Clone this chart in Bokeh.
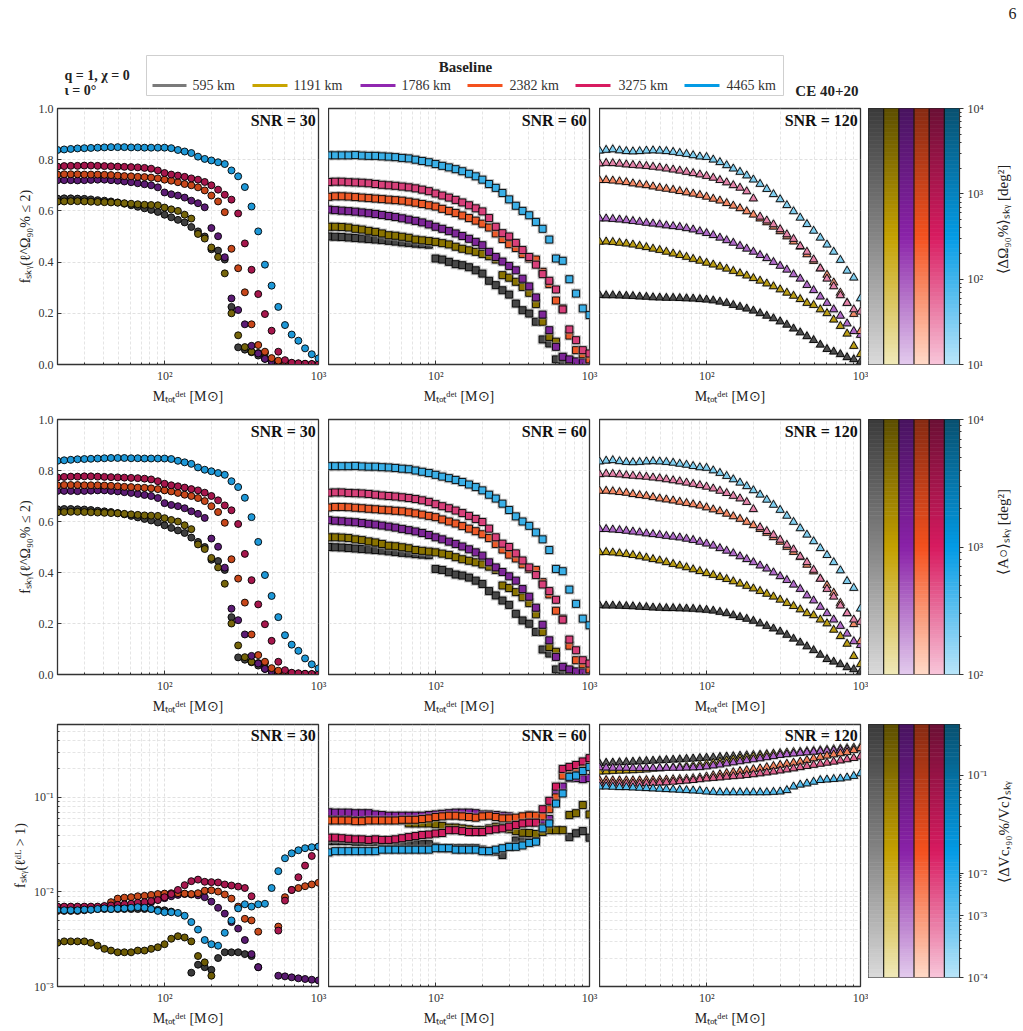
import numpy as np
from bokeh.plotting import figure
from bokeh.layouts import row, column
from bokeh.models import Range1d, FixedTicker, CustomJSTickFormatter, PrintfTickFormatter, Label
from bokeh.core.properties import value
from bokeh.embed import file_html
from bokeh.resources import INLINE

nan = float("nan")

# ---------------- data ----------------
mass = [20.0, 22.1, 24.4, 27.0, 29.9, 33.0, 36.5, 40.4, 44.6, 49.3, 54.5, 60.3, 66.6, 73.7, 81.4,
        90.0, 99.5, 110.0, 121.6, 134.5, 148.6, 164.3, 181.7, 200.8, 222.0, 245.4, 271.3, 299.9,
        331.6, 366.5, 405.2, 448.0, 495.2, 547.5, 605.2, 669.1, 739.7, 817.7, 904.0, 1000.0]

baselines = ["595 km", "1191 km", "1786 km", "2382 km", "3275 km", "4465 km"]
line_colors = ["#7a7a7a", "#c8a400", "#9027b0", "#f4511e", "#d81b60", "#039be5"]
snr_values = [30, 60, 120]

# f_sky(l_90 <= 2), SNR = 30
loc30_595 = [0.648,0.649,0.649,0.648,0.647,0.645,0.642,0.64,0.637,0.633, 0.628,0.622,0.616,0.61,0.604,0.596,0.585,0.575,0.565,0.555, 0.537,0.52,0.50,0.45,0.445,0.41,0.225,0.067,0.058,0.048, 0.035,0.022,0.012,0.006,0.003,0.002,0.001,0.001,0.0,0.0]
loc30_1191 = [0.636,0.637,0.638,0.638,0.637,0.636,0.635,0.634,0.633,0.632, 0.63,0.628,0.626,0.624,0.623,0.622,0.613,0.606,0.60,0.585, 0.57,0.51,0.492,0.457,0.42,0.356,0.2,0.114,0.068,0.05, 0.045,0.045,0.02,0.01,0.005,0.003,0.002,0.001,0.0,0.0]
loc30_1786 = [0.72,0.72,0.72,0.719,0.72,0.721,0.722,0.722,0.72,0.718, 0.715,0.712,0.708,0.704,0.70,0.692,0.672,0.665,0.66,0.652, 0.64,0.63,0.614,0.533,0.501,0.419,0.258,0.213,0.157,0.073, 0.043,0.022,0.012,0.006,0.003,0.002,0.001,0.001,0.0,0.0]
loc30_2382 = [0.742,0.743,0.743,0.743,0.742,0.742,0.742,0.741,0.74,0.738, 0.736,0.735,0.733,0.732,0.73,0.727,0.722,0.718,0.712,0.705, 0.70,0.692,0.68,0.66,0.637,0.595,0.452,0.376,0.282,0.157, 0.076,0.05,0.025,0.015,0.008,0.005,0.003,0.002,0.001,0.0]
loc30_3275 = [0.773,0.775,0.776,0.776,0.777,0.777,0.776,0.775,0.774,0.773, 0.772,0.771,0.77,0.768,0.765,0.758,0.748,0.742,0.738,0.733, 0.727,0.722,0.713,0.70,0.683,0.663,0.644,0.59,0.473,0.37, 0.275,0.197,0.132,0.05,0.017,0.007,0.005,0.003,0.002,0.001]
loc30_4465 = [0.838,0.840,0.842,0.844,0.845,0.846,0.847,0.848,0.849,0.849, 0.849,0.848,0.848,0.847,0.847,0.847,0.847,0.845,0.838,0.832, 0.826,0.812,0.803,0.797,0.79,0.783,0.758,0.735,0.693,0.617, 0.52,0.39,0.308,0.225,0.154,0.117,0.093,0.063,0.04,0.024]

# SNR = 60
loc60_595 = [0.50,0.499,0.498,0.496,0.494,0.492,0.49,0.488,0.486,0.483, 0.48,0.477,0.475,0.472,0.47,0.468,0.414,0.41,0.401,0.392, 0.388,0.38,0.368,0.355,0.327,0.31,0.29,0.273,0.238,0.212, 0.199,0.167,0.098,0.082,0.02,0.01,0.008,0.005,0.003,0.002]
loc60_1191 = [0.538,0.538,0.537,0.535,0.53,0.527,0.522,0.518,0.512,0.505, 0.503,0.499,0.495,0.488,0.485,0.482,0.479,0.474,0.469,0.46, 0.452,0.446,0.44,0.432,0.423,0.41,0.349,0.339,0.323,0.303, 0.28,0.236,0.167,0.108,0.089,0.027,0.015,0.01,0.006,0.004]
loc60_1786 = [0.605,0.603,0.601,0.599,0.597,0.594,0.591,0.588,0.584,0.58, 0.576,0.571,0.566,0.561,0.555,0.547,0.538,0.53,0.521,0.512, 0.502,0.491,0.479,0.466,0.44,0.42,0.402,0.385,0.368,0.335, 0.305,0.262,0.195,0.134,0.069,0.03,0.02,0.012,0.008,0.005]
loc60_2382 = [0.655,0.657,0.657,0.656,0.654,0.652,0.65,0.648,0.646,0.644, 0.642,0.64,0.636,0.632,0.627,0.622,0.617,0.608,0.6,0.592, 0.582,0.572,0.562,0.55,0.535,0.512,0.49,0.47,0.455,0.432, 0.414,0.41,0.362,0.314,0.25,0.219,0.113,0.056,0.04,0.02]
loc60_3275 = [0.713,0.714,0.714,0.712,0.711,0.71,0.708,0.705,0.702,0.70, 0.698,0.695,0.692,0.688,0.683,0.677,0.668,0.66,0.652,0.643, 0.633,0.622,0.61,0.598,0.572,0.538,0.513,0.5,0.475,0.447, 0.42,0.39,0.353,0.327,0.293,0.215,0.137,0.095,0.056,0.043]
loc60_4465 = [0.817,0.817,0.817,0.817,0.818,0.816,0.815,0.815,0.813,0.812, 0.81,0.807,0.805,0.80,0.795,0.79,0.783,0.776,0.77,0.763, 0.755,0.745,0.735,0.722,0.705,0.69,0.67,0.645,0.62,0.6, 0.583,0.557,0.53,0.488,0.414,0.405,0.333,0.277,0.219,0.193]

# SNR = 120
loc120_595 = [0.271,0.27,0.27,0.269,0.268,0.267,0.265,0.264,0.262,0.261, 0.26,0.26,0.259,0.258,0.257,0.255,0.253,0.25,0.245,0.24, 0.232,0.225,0.218,0.21,0.2,0.19,0.18,0.168,0.155,0.14, 0.125,0.11,0.095,0.077,0.06,0.05,0.04,0.028,0.02,0.01]
loc120_1191 = [0.479,0.48,0.478,0.475,0.472,0.468,0.463,0.458,0.452,0.447, 0.44,0.433,0.427,0.42,0.412,0.405,0.397,0.39,0.382,0.374, 0.365,0.356,0.347,0.337,0.327,0.316,0.305,0.293,0.28,0.268, 0.255,0.24,0.232,0.215,0.2,0.175,0.15,0.12,0.072,0.04]
loc120_1786 = [0.57,0.57,0.568,0.566,0.563,0.56,0.557,0.553,0.55,0.547, 0.543,0.54,0.537,0.532,0.527,0.52,0.513,0.505,0.495,0.485, 0.475,0.463,0.452,0.44,0.427,0.415,0.40,0.385,0.37,0.352, 0.335,0.31,0.29,0.265,0.24,0.215,0.19,0.16,0.13,0.115]
loc120_2382 = [0.72,0.72,0.718,0.715,0.712,0.707,0.703,0.70,0.695,0.69, 0.686,0.682,0.677,0.672,0.667,0.662,0.655,0.647,0.64,0.63, 0.62,0.61,0.598,0.585,0.57,0.555,0.538,0.52,0.50,0.48, 0.46,0.43,0.404,0.375,0.35,0.32,0.28,0.24,0.197,0.13]
loc120_3275 = [0.785,0.787,0.786,0.784,0.781,0.779,0.777,0.775,0.772,0.769, 0.765,0.761,0.757,0.752,0.747,0.742,0.736,0.729,0.72,0.711, 0.70,0.69,0.676,0.648,0.577,0.562,0.547,0.528,0.508,0.49, 0.462,0.44,0.41,0.375,0.335,0.305,0.27,0.24,0.215,0.206]
loc120_4465 = [0.835,0.838,0.84,0.836,0.833,0.832,0.833,0.835,0.836,0.835, 0.833,0.83,0.826,0.822,0.817,0.812,0.81,0.80,0.79,0.778, 0.765,0.752,0.738,0.722,0.705,0.685,0.665,0.645,0.622,0.598, 0.573,0.548,0.522,0.495,0.468,0.44,0.408,0.366,0.339,0.258]

# f_sky(l_dL > 1), SNR = 30
vol30_595 = [0.0066,0.0066,0.0066,0.0066,0.0066,0.0066,0.0066,0.0066,0.0066,0.0066, 0.0066,0.0066,0.0066,0.0066,0.0066,0.0065,0.0064,0.0062,nan,nan, 0.0014,0.0017,0.0016,0.0015,0.002,0.0023,0.0023,0.0023,0.0022,0.0021, 0.0016,nan,nan,nan,nan,nan,nan,nan,nan,nan]
vol30_1191 = [0.0029,0.003,0.003,0.003,0.003,0.0029,0.0027,0.0025,0.0024,0.0023, 0.0023,0.0023,0.0024,0.0024,0.0025,0.0026,0.0028,0.0032,0.0034,0.0033, 0.003,0.0021,0.0018,0.0013,nan,nan,nan,nan,nan,nan, nan,nan,nan,nan,nan,nan,nan,nan,nan,nan]
vol30_1786 = [0.0068,0.0068,0.0068,0.0068,0.0068,0.0068,0.0068,0.0069,0.007,0.0069, 0.0069,0.007,0.0072,0.0074,0.0078,0.0083,0.0086,0.009,0.0093,0.0095, 0.0094,0.0092,0.0088,0.0079,0.0068,0.0059,0.0048,0.0041,0.0031,0.0022, 0.0016,nan,nan,0.0013,0.00128,0.00125,0.00122,0.0012,0.00118,0.00116]
vol30_2382 = [0.0063,0.0063,0.0063,0.0063,0.0064,0.0065,0.0067,0.007,0.0078,0.0085, 0.0087,0.0088,0.009,0.0091,0.0093,0.0095,0.0096,0.0097,0.0097,0.0096, 0.0095,0.0097,0.0103,0.0104,0.0101,0.0094,0.0085,0.007,0.0052,0.005, 0.0038,nan,nan,0.0043,0.0088,0.0105,0.011,0.0115,0.012,0.0125]
vol30_3275 = [0.007,0.007,0.007,0.007,0.007,0.007,0.007,0.0071,0.0072,0.0073, 0.0074,0.0075,0.0077,0.0078,0.008,0.0082,0.0088,0.0095,0.0105,0.0118, 0.013,0.0135,0.0128,0.0127,0.0126,0.012,0.0117,0.0114,0.011,0.009, nan,nan,nan,0.0039,0.0081,0.0105,0.0143,0.019,0.024,0.03]
vol30_4465 = [0.0064,0.0064,0.0064,0.0064,0.0065,0.0065,0.0066,0.0067,0.0066,0.0067, 0.0067,0.0068,0.0069,0.0068,0.0066,0.0063,0.0061,0.0061,0.006,0.0056, 0.0048,0.004,0.0031,0.0028,0.0027,0.0037,0.005,0.0067,0.0074,0.007, 0.0074,0.0075,0.011,0.0166,0.0227,0.0256,0.0276,0.029,0.0297,0.0302]

# SNR = 60
vol60_595 = [0.0345,0.0345,0.0345,0.0345,0.034,0.034,0.034,0.034,0.034,0.033, 0.033,0.033,0.033,0.032,0.032,0.032,0.030,0.029,0.029,0.029, 0.029,0.029,0.029,0.028,0.027,0.0267,0.0246,0.03,0.035,0.036, 0.037,0.037,nan,nan,nan,nan,0.038,0.0417,0.044,0.0375]
vol60_1191 = [0.058,0.058,0.058,0.058,0.058,0.058,0.058,0.058,0.058,0.058, 0.058,0.057,0.053,0.053,0.053,0.053,0.052,0.05,0.048,0.048, 0.047,0.046,0.045,0.045,0.047,0.049,0.048,0.046,0.044,0.0423, 0.042,0.041,0.043,0.045,0.045,0.045,0.065,0.068,0.083,0.066]
vol60_1786 = [0.0695,0.069,0.069,0.069,0.068,0.068,0.068,0.066,0.065,0.064, 0.064,0.064,0.064,0.064,0.064,0.065,0.066,0.067,0.068,0.069, 0.069,0.069,0.068,0.066,0.066,0.065,0.064,0.063,0.056,0.062, 0.065,0.063,0.058,0.059,0.11,0.13,0.16,0.16,0.156,0.16]
vol60_2382 = [0.057,0.057,0.057,0.057,0.056,0.056,0.057,0.057,0.057,0.057, 0.057,0.058,0.058,0.058,0.059,0.06,0.062,0.063,0.064,0.064, 0.063,0.062,0.061,0.063,0.064,0.062,0.06,0.06,0.061,0.063, 0.064,0.064,0.063,0.075,0.10,0.17,0.2,0.205,0.22,0.22]
vol60_3275 = [0.0375,0.0375,0.037,0.0365,0.036,0.036,0.0355,0.036,0.0355,0.0355, 0.036,0.037,0.038,0.039,0.04,0.0405,0.0415,0.042,0.045,0.045, 0.044,0.043,0.043,0.043,0.045,0.046,0.047,0.049,0.051,0.053, 0.054,0.054,0.075,0.092,0.13,0.2,0.21,0.22,0.24,0.26]
vol60_4465 = [0.0262,0.027,0.027,0.027,0.027,0.027,0.027,0.027,0.028,0.028, 0.028,0.028,0.028,0.028,0.028,0.028,0.029,0.029,0.029,0.028, 0.028,0.028,0.028,0.027,0.027,0.028,0.029,0.03,0.03,0.031, 0.033,0.034,0.047,0.053,0.086,0.11,0.165,0.17,0.19,0.21]

# SNR = 120
vol120_595 = [0.229,0.232,0.233,0.235,0.236,0.238,0.24,0.242,0.244,0.246, 0.248,0.25,0.252,0.255,0.257,0.26,0.262,0.264,0.267,0.27, 0.272,0.275,0.278,0.28,0.283,0.286,0.288,0.291,0.294,0.297, 0.3,0.302,0.305,0.308,0.311,0.314,0.317,0.32,0.325,0.33]
vol120_1191 = [0.187,0.188,0.19,0.191,0.192,0.193,0.195,0.197,0.2,0.202, 0.205,0.208,0.211,0.214,0.217,0.221,0.226,0.232,0.238,0.245, 0.252,0.258,0.264,0.27,0.275,0.281,0.287,0.292,0.297,0.3, 0.303,0.307,0.31,0.314,0.318,0.322,0.326,0.33,0.335,0.34]
vol120_1786 = [0.207,0.206,0.205,0.205,0.205,0.204,0.204,0.204,0.204,0.204, 0.205,0.205,0.205,0.206,0.207,0.208,0.212,0.217,0.222,0.228, 0.234,0.24,0.246,0.252,0.258,0.265,0.272,0.28,0.285,0.29, 0.295,0.299,0.303,0.307,0.31,0.313,0.316,0.32,0.325,0.33]
vol120_2382 = [0.152,0.152,0.151,0.151,0.151,0.151,0.151,0.152,0.152,0.153, 0.154,0.155,0.156,0.157,0.159,0.162,0.166,0.171,0.175,0.18, 0.184,0.189,0.193,0.198,0.202,0.208,0.214,0.22,0.226,0.232, 0.238,0.248,0.258,0.267,0.276,0.284,0.292,0.3,0.315,0.33]
vol120_3275 = [0.14,0.14,0.14,0.14,0.14,0.14,0.14,0.141,0.142,0.143, 0.144,0.146,0.148,0.15,0.152,0.155,0.158,0.16,0.162,0.165, 0.167,0.169,0.172,0.175,0.179,0.183,0.187,0.192,0.197,0.202, 0.208,0.214,0.22,0.226,0.232,0.238,0.245,0.252,0.26,0.27]
vol120_4465 = [0.13,0.13,0.129,0.128,0.128,0.127,0.126,0.125,0.124,0.123, 0.122,0.121,0.12,0.119,0.118,0.117,0.115,0.114,0.113,0.113, 0.113,0.113,0.113,0.113,0.113,0.113,0.114,0.115,0.119,0.13, 0.136,0.14,0.146,0.152,0.154,0.156,0.158,0.162,0.168,0.179]

loc_data = {30: [loc30_595, loc30_1191, loc30_1786, loc30_2382, loc30_3275, loc30_4465],
            60: [loc60_595, loc60_1191, loc60_1786, loc60_2382, loc60_3275, loc60_4465],
            120: [loc120_595, loc120_1191, loc120_1786, loc120_2382, loc120_3275, loc120_4465]}
vol_data = {30: [vol30_595, vol30_1191, vol30_1786, vol30_2382, vol30_3275, vol30_4465],
            60: [vol60_595, vol60_1191, vol60_1786, vol60_2382, vol60_3275, vol60_4465],
            120: [vol120_595, vol120_1191, vol120_1786, vol120_2382, vol120_3275, vol120_4465]}

# ---------------- styles ----------------
fill_loc = {30: ["#3f3f3f", "#76650a", "#5c1b74", "#c8471a", "#a6164c", "#1d98d8"],
            60: ["#474747", "#8a7300", "#7e2698", "#ee5a28", "#d8407a", "#3ab0e8"],
            120: ["#4d4d4d", "#bb9d14", "#b06ac8", "#f58a66", "#e584aa", "#80cff1"]}
fill_vol = {30: ["#3a3a3a", "#6e5c04", "#5a1a70", "#c84a1c", "#a8174e", "#1f99d8"],
            60: ["#4a4a4a", "#7f6b00", "#8a25a6", "#f0561f", "#d21f62", "#28a6e6"],
            120: ["#555555", "#c0a010", "#b466cc", "#f5805a", "#e06590", "#55bdee"]}
markers = {30: "circle", 60: "square", 120: "triangle"}
msize = {30: 7, 60: 7, 120: 8}

ramps = [("#dadada", "#858585", "#3a3a3a"),
         ("#f0e9b9", "#c4a000", "#5c4e00"),
         ("#e3cbed", "#8a22a8", "#48135f"),
         ("#ffd9c8", "#f4511e", "#862a12"),
         ("#f8c6da", "#d81b60", "#6a0f34"),
         ("#b9e5f9", "#039be5", "#08506f")]

SERIF = "Liberation Serif"
GRID = "#d4d4d4"

POW_JS = """
const m = {'-':'\u207b','0':'\u2070','1':'\u00b9','2':'\u00b2','3':'\u00b3','4':'\u2074','5':'\u2075','6':'\u2076','7':'\u2077','8':'\u2078','9':'\u2079'};
const e = Math.round(Math.log10(tick));
return '10' + String(e).split('').map(c => m[c]).join('');
"""
CB_JS = """
let best = 0, d = 1e9;
for (let i = 0; i < pos.length; i++) { const dd = Math.abs(pos[i] - tick); if (dd < d) { d = dd; best = i; } }
return labs[best];
"""

XLABEL = "M\u209c\u2092\u209c\u1d48\u1d49\u1d57 [M\u2299]"
YLABEL_LOC = "f\u209b\u2096\u1d67(\u2113^\u03a9\u2089\u2080% \u2264 2)"
YLABEL_VOL = "f\u209b\u2096\u1d67(\u2113\u1d48\u1d38 > 1)"


def style_axis(ax):
    ax.major_label_text_font = SERIF
    ax.major_label_text_font_size = "12px"
    ax.major_label_text_color = "#333333"
    ax.axis_label_text_font = SERIF
    ax.axis_label_text_font_size = "14px"
    ax.axis_label_text_font_style = "normal"
    ax.axis_label_text_color = "#222222"
    ax.axis_line_color = "#333333"
    ax.major_tick_line_color = "#333333"
    ax.minor_tick_line_color = "#333333"
    ax.major_tick_in = 4
    ax.major_tick_out = 0
    ax.minor_tick_in = 2
    ax.minor_tick_out = 0
    ax.major_label_standoff = 4
    ax.axis_label_standoff = 3


def panel(col, series, fills, snr, kind, fh, bt, bb):
    ylog = kind == "vol"
    p = figure(frame_width=261, frame_height=fh, x_axis_type="log",
               y_axis_type="log" if ylog else "linear",
               x_range=Range1d(20, 1000),
               y_range=Range1d(1e-3, 0.59) if ylog else Range1d(0, 1),
               min_border_left=57 if col == 0 else 0,
               min_border_right=10 if col < 2 else 8,
               min_border_top=bt, min_border_bottom=bb,
               toolbar_location=None, output_backend="svg", title=None)
    p.outline_line_color = "#333333"
    p.outline_line_width = 1.3
    xt = FixedTicker(ticks=[100, 1000],
                     minor_ticks=[20, 30, 40, 50, 60, 70, 80, 90, 200, 300, 400, 500, 600, 700, 800, 900])
    p.xaxis.ticker = xt
    p.xgrid.ticker = xt
    p.xaxis.formatter = CustomJSTickFormatter(code=POW_JS)
    p.xaxis.axis_label = XLABEL
    if ylog:
        yt = FixedTicker(ticks=[1e-3, 1e-2, 1e-1],
                         minor_ticks=[2e-3, 3e-3, 4e-3, 5e-3, 6e-3, 7e-3, 8e-3, 9e-3,
                                      2e-2, 3e-2, 4e-2, 5e-2, 6e-2, 7e-2, 8e-2, 9e-2,
                                      2e-1, 3e-1, 4e-1, 5e-1])
        p.yaxis.ticker = yt
        p.ygrid.ticker = yt
        p.yaxis.formatter = CustomJSTickFormatter(code=POW_JS)
        p.ygrid.minor_grid_line_color = GRID
        p.ygrid.minor_grid_line_dash = "3 2"
        p.ygrid.minor_grid_line_width = 0.6
    else:
        yt = FixedTicker(ticks=[0, 0.2, 0.4, 0.6, 0.8, 1.0])
        p.yaxis.ticker = yt
        p.ygrid.ticker = yt
        p.yaxis.formatter = PrintfTickFormatter(format="%.1f")
    for g in (p.xgrid, p.ygrid):
        g.grid_line_color = GRID
        g.grid_line_dash = "3 2"
        g.grid_line_width = 0.7
    p.xgrid.minor_grid_line_color = GRID
    p.xgrid.minor_grid_line_dash = "3 2"
    p.xgrid.minor_grid_line_width = 0.6
    style_axis(p.xaxis[0])
    style_axis(p.yaxis[0])
    if col == 0:
        p.yaxis.axis_label = YLABEL_VOL if ylog else YLABEL_LOC
    else:
        p.yaxis.visible = False

    mk = markers[snr]
    sz = msize[snr]
    for k in range(6):
        if mk != "circle":
            p.scatter(mass, series[k], marker=mk, size=sz + 3, fill_color="#8f8f8f",
                      fill_alpha=0.55, line_color=None)
        p.scatter(mass, series[k], marker=mk, size=sz, fill_color=fills[k],
                  line_color="black", line_width=0.9)

    p.add_layout(Label(x=960, y=0.55 if ylog else 0.988, text="SNR = %d" % snr,
                       text_align="right", text_baseline="top", text_font=SERIF,
                       text_font_size="16px", text_font_style="bold", text_color="#111111"))
    return p


def hex2rgb(h):
    h = h.lstrip("#")
    return np.array([int(h[i:i + 2], 16) for i in (0, 2, 4)], dtype=float)


def ramp_color(lo, mid, hi, t):
    a, b, c = hex2rgb(lo), hex2rgb(mid), hex2rgb(hi)
    if t < 0.5:
        v = a + (b - a) * (t / 0.5)
    else:
        v = b + (c - b) * ((t - 0.5) / 0.5)
    v = np.clip(np.round(v), 0, 255).astype(int)
    return "#%02x%02x%02x" % tuple(v)


def cbar(fh, bt, bb, pos, labs, minor):
    p = figure(frame_width=91, frame_height=fh, x_range=Range1d(0, 6), y_range=Range1d(0, 1),
               y_axis_location="right", min_border_left=0, min_border_right=30,
               min_border_top=bt, min_border_bottom=bb,
               toolbar_location=None, output_backend="svg", title=None)
    p.xaxis.visible = False
    p.grid.visible = False
    p.outline_line_color = "#222222"
    p.outline_line_width = 1.2
    N = 64
    L, R, B, T, C = [], [], [], [], []
    for k, (lo, mid, hi) in enumerate(ramps):
        for j in range(N):
            L.append(k); R.append(k + 1)
            B.append(j / N); T.append((j + 1) / N)
            C.append(ramp_color(lo, mid, hi, (j + 0.5) / N))
    p.quad(left=L, right=R, bottom=B, top=T, fill_color=C, line_color=C, line_width=0.6)
    p.segment(x0=[1, 2, 3, 4, 5], y0=[0] * 5, x1=[1, 2, 3, 4, 5], y1=[1] * 5,
              line_color="#111111", line_width=1.1)
    p.yaxis.ticker = FixedTicker(ticks=pos, minor_ticks=minor)
    p.yaxis.formatter = CustomJSTickFormatter(args=dict(pos=pos, labs=labs), code=CB_JS)
    ax = p.yaxis[0]
    style_axis(ax)
    ax.major_tick_in = 0
    ax.major_tick_out = 4
    ax.minor_tick_in = 0
    ax.minor_tick_out = 2
    return p


def cblabel(total_h, bt, fh, label):
    q = figure(width=34, height=total_h, x_range=Range1d(0, 34), y_range=Range1d(0, total_h),
               min_border=0, toolbar_location=None, output_backend="svg", title=None)
    q.axis.visible = False
    q.grid.visible = False
    q.outline_line_color = None
    q.text(x=[13], y=[total_h - bt - fh / 2], text=[label], angle=np.pi / 2,
           text_align="center", text_baseline="middle", text_font=value(SERIF),
           text_font_size="15px", text_color="#222222")
    return q


# colour bar tick positions (fractions of bar height)
cb1_pos = [0.0, 1 / 3, 2 / 3, 1.0]
cb1_lab = ["10\u00b9", "10\u00b2", "10\u00b3", "10\u2074"]
cb1_min = [(d + np.log10(k)) / 3 for d in range(3) for k in range(2, 10)]
cb2_pos = [0.0, 0.5, 1.0]
cb2_lab = ["10\u00b2", "10\u00b3", "10\u2074"]
cb2_min = [(d + np.log10(k)) / 2 for d in range(2) for k in range(2, 10)]
cb3_pos = [0.0, 0.244, 0.41, 0.799]
cb3_lab = ["10\u207b\u2074", "10\u207b\u00b3", "10\u207b\u00b2", "10\u207b\u00b9"]
cb3_min = []
for a, b in zip(cb3_pos[:-1], cb3_pos[1:]):
    cb3_min += [a + (b - a) * np.log10(k) for k in range(2, 10)]
cb3_min += [0.799 + 0.39 * np.log10(k) for k in (2, 3)]

rows = []
# (kind, frame_h, top, bottom, cbar_frame_h, cbar_bottom)
row_specs = [("loc", 256, 7, 48, 256, 48), ("loc", 255, 7, 43, 255, 43), ("vol", 262, 7, 45, 253, 54)]
cb_specs = [(cb1_pos, cb1_lab, cb1_min, "\u27e8\u0394\u03a9\u2089\u2080%\u27e9\u209b\u2096\u1d67 [deg\u00b2]"),
            (cb2_pos, cb2_lab, cb2_min, "\u27e8A\u25cb\u27e9\u209b\u2096\u1d67 [deg\u00b2]"),
            (cb3_pos, cb3_lab, cb3_min, "\u27e8\u0394Vc,\u2089\u2080%/Vc\u27e9\u209b\u2096\u1d67")]
for r, (kind, fh, bt, bb, cfh, cbb) in enumerate(row_specs):
    figs = []
    for c, snr in enumerate(snr_values):
        data = vol_data[snr] if kind == "vol" else loc_data[snr]
        fills = fill_vol[snr] if kind == "vol" else fill_loc[snr]
        figs.append(panel(c, data, fills, snr, kind, fh, bt, bb))
    pos, labs, mn, lab = cb_specs[r]
    figs.append(cbar(cfh, bt, cbb, pos, labs, mn))
    figs.append(cblabel(bt + fh + bb, bt, cfh, lab))
    rows.append(row(*figs, spacing=0))

# ---------------- header (legend + annotations) ----------------
HH = 101
h = figure(width=1023, height=HH, x_range=Range1d(0, 1023), y_range=Range1d(HH, 0),
           min_border=0, toolbar_location=None, output_backend="svg", title=None)
h.axis.visible = False
h.grid.visible = False
h.outline_line_color = None
h.quad(left=[146], right=[783], top=[55], bottom=[95], fill_color="white",
       line_color="#cfcfcf", line_width=1)
hx0 = [152, 252, 360, 467, 575, 684]
hx1 = [186, 287, 395, 502, 610, 719]
tx = [192, 293, 401, 509, 618, 726]
h.segment(x0=hx0, y0=[85] * 6, x1=hx1, y1=[85] * 6, line_color=line_colors, line_width=3)
h.text(x=tx, y=[85] * 6, text=baselines, text_baseline="middle", text_align="left",
       text_font=value(SERIF), text_font_size="14px", text_color="#333333")
h.text(x=[465], y=[66], text=["Baseline"], text_baseline="middle", text_align="center",
       text_font=value(SERIF), text_font_size="15px", text_font_style="bold", text_color="#222222")
h.text(x=[64, 64], y=[75, 90], text=["q = 1, \u03c7 = 0", "\u03b9 = 0\u00b0"],
       text_baseline="alphabetic", text_align="left", text_font=value(SERIF),
       text_font_size="14px", text_font_style="bold", text_color="#222222")
h.text(x=[858], y=[90], text=["CE 40+20"], text_baseline="alphabetic", text_align="right",
       text_font=value(SERIF), text_font_size="15px", text_font_style="bold", text_color="#222222")
h.text(x=[1012], y=[13], text=["6"], text_baseline="middle", text_align="center",
       text_font=value(SERIF), text_font_size="16px", text_color="#222222")

layout = column(h, *rows, spacing=0)
open("out.html", "w").write(file_html(layout, INLINE))
